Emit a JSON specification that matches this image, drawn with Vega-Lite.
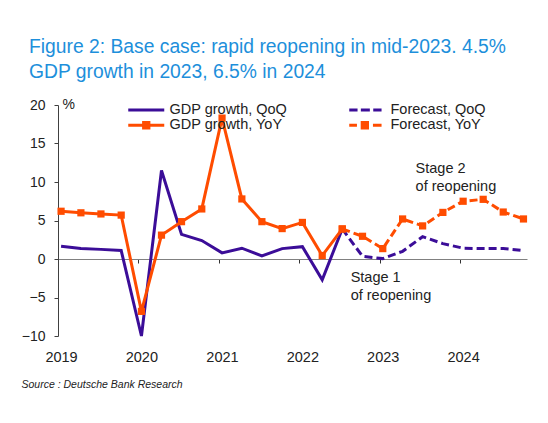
{
  "$schema": "https://vega.github.io/schema/vega-lite/v6.json",
  "width": 469,
  "height": 231,
  "autosize": {"type": "none"},
  "padding": {"left": 58, "top": 105, "right": 21, "bottom": 87},
  "background": "white",
  "title": {
    "text": ["Figure 2: Base case: rapid reopening in mid-2023. 4.5%", "GDP growth in 2023, 6.5% in 2024"],
    "anchor": "start",
    "frame": "group",
    "dx": -29,
    "offset": 15,
    "font": "Liberation Sans",
    "fontSize": 19.3,
    "fontWeight": "normal",
    "lineHeight": 24.5,
    "color": "#1d8fdb"
  },
  "datasets": {
    "gdp": [
      {"q": "2019-01-15", "series": "GDP growth, QoQ", "v": 1.65},
      {"q": "2019-04-15", "series": "GDP growth, QoQ", "v": 1.35},
      {"q": "2019-07-15", "series": "GDP growth, QoQ", "v": 1.25},
      {"q": "2019-10-15", "series": "GDP growth, QoQ", "v": 1.1},
      {"q": "2020-01-15", "series": "GDP growth, QoQ", "v": -10.0},
      {"q": "2020-04-15", "series": "GDP growth, QoQ", "v": 11.5},
      {"q": "2020-07-15", "series": "GDP growth, QoQ", "v": 3.2},
      {"q": "2020-10-15", "series": "GDP growth, QoQ", "v": 2.4},
      {"q": "2021-01-15", "series": "GDP growth, QoQ", "v": 0.8},
      {"q": "2021-04-15", "series": "GDP growth, QoQ", "v": 1.4},
      {"q": "2021-07-15", "series": "GDP growth, QoQ", "v": 0.4},
      {"q": "2021-10-15", "series": "GDP growth, QoQ", "v": 1.35},
      {"q": "2022-01-15", "series": "GDP growth, QoQ", "v": 1.6},
      {"q": "2022-04-15", "series": "GDP growth, QoQ", "v": -2.7},
      {"q": "2022-07-15", "series": "GDP growth, QoQ", "v": 3.9},
      {"q": "2022-07-15", "series": "Forecast, QoQ", "v": 3.9},
      {"q": "2022-10-15", "series": "Forecast, QoQ", "v": 0.35},
      {"q": "2023-01-15", "series": "Forecast, QoQ", "v": 0.05},
      {"q": "2023-04-15", "series": "Forecast, QoQ", "v": 1.0},
      {"q": "2023-07-15", "series": "Forecast, QoQ", "v": 2.9},
      {"q": "2023-10-15", "series": "Forecast, QoQ", "v": 2.0},
      {"q": "2024-01-15", "series": "Forecast, QoQ", "v": 1.4},
      {"q": "2024-04-15", "series": "Forecast, QoQ", "v": 1.35},
      {"q": "2024-07-15", "series": "Forecast, QoQ", "v": 1.35},
      {"q": "2024-10-15", "series": "Forecast, QoQ", "v": 1.1},
      {"q": "2019-01-15", "series": "GDP growth, YoY", "v": 6.2},
      {"q": "2019-04-15", "series": "GDP growth, YoY", "v": 6.0},
      {"q": "2019-07-15", "series": "GDP growth, YoY", "v": 5.85},
      {"q": "2019-10-15", "series": "GDP growth, YoY", "v": 5.7},
      {"q": "2020-01-15", "series": "GDP growth, YoY", "v": -6.8},
      {"q": "2020-04-15", "series": "GDP growth, YoY", "v": 3.1},
      {"q": "2020-07-15", "series": "GDP growth, YoY", "v": 4.85},
      {"q": "2020-10-15", "series": "GDP growth, YoY", "v": 6.5},
      {"q": "2021-01-15", "series": "GDP growth, YoY", "v": 18.3},
      {"q": "2021-04-15", "series": "GDP growth, YoY", "v": 7.8},
      {"q": "2021-07-15", "series": "GDP growth, YoY", "v": 4.85},
      {"q": "2021-10-15", "series": "GDP growth, YoY", "v": 3.95},
      {"q": "2022-01-15", "series": "GDP growth, YoY", "v": 4.75},
      {"q": "2022-04-15", "series": "GDP growth, YoY", "v": 0.45},
      {"q": "2022-07-15", "series": "GDP growth, YoY", "v": 3.9},
      {"q": "2022-07-15", "series": "Forecast, YoY", "v": 3.9},
      {"q": "2022-10-15", "series": "Forecast, YoY", "v": 2.95},
      {"q": "2023-01-15", "series": "Forecast, YoY", "v": 1.35},
      {"q": "2023-04-15", "series": "Forecast, YoY", "v": 5.2},
      {"q": "2023-07-15", "series": "Forecast, YoY", "v": 4.3},
      {"q": "2023-10-15", "series": "Forecast, YoY", "v": 6.05},
      {"q": "2024-01-15", "series": "Forecast, YoY", "v": 7.5},
      {"q": "2024-04-15", "series": "Forecast, YoY", "v": 7.75},
      {"q": "2024-07-15", "series": "Forecast, YoY", "v": 6.1},
      {"q": "2024-10-15", "series": "Forecast, YoY", "v": 5.2}
    ],
    "notes": [
      {"q": "2023-06-13", "v": 11.65, "label": "Stage 2\nof reopening"},
      {"q": "2022-08-22", "v": -2.43, "label": "Stage 1\nof reopening"}
    ]
  },
  "layer": [
    {
      "data": {"name": "gdp"},
      "encoding": {
        "x": {
          "field": "q",
          "type": "temporal",
          "scale": {"domain": [{"year": 2019, "month": 1, "date": 1}, {"year": 2024, "month": 10, "date": 31}]},
          "axis": {
            "orient": "bottom",
            "offset": -77,
            "title": null,
            "labels": false,
            "grid": false,
            "values": [
              {"year": 2019, "month": 1, "date": 1},
              {"year": 2020, "month": 1, "date": 1},
              {"year": 2021, "month": 1, "date": 1},
              {"year": 2022, "month": 1, "date": 1},
              {"year": 2023, "month": 1, "date": 1},
              {"year": 2024, "month": 1, "date": 1}
            ],
            "domainColor": "#808080",
            "domainWidth": 1,
            "tickColor": "#333333",
            "tickSize": 4,
            "tickWidth": 1
          }
        },
        "y": {
          "field": "v",
          "type": "quantitative",
          "scale": {"domain": [-10, 20], "nice": false, "zero": false},
          "axis": {
            "values": [-10, -5, 0, 5, 10, 15, 20],
            "grid": false,
            "domainColor": "#404040",
            "tickColor": "#404040",
            "tickSize": 4,
            "labelPadding": 9,
            "labelFont": "Liberation Sans",
            "labelFontSize": 14,
            "labelColor": "#222222",
            "title": "%",
            "titleAngle": 0,
            "titleAlign": "left",
            "titleBaseline": "middle",
            "titleX": 4,
            "titleY": -1,
            "titleFont": "Liberation Sans",
            "titleFontSize": 14,
            "titleFontWeight": "normal",
            "titleColor": "#222222"
          }
        }
      },
      "layer": [
        {
          "transform": [{"filter": {"field": "series", "equal": "GDP growth, QoQ"}}],
          "mark": {"type": "line", "color": "#3b0d98", "strokeWidth": 3}
        },
        {
          "transform": [{"filter": {"field": "series", "equal": "Forecast, QoQ"}}],
          "mark": {"type": "line", "color": "#3b0d98", "strokeWidth": 3, "strokeDash": [8, 4]}
        },
        {
          "transform": [{"filter": {"field": "series", "equal": "Forecast, YoY"}}],
          "mark": {"type": "line", "color": "#ff4c00", "strokeWidth": 3, "strokeDash": [8, 4]}
        },
        {
          "transform": [{"filter": {"field": "series", "equal": "GDP growth, YoY"}}],
          "mark": {"type": "line", "color": "#ff4c00", "strokeWidth": 3}
        },
        {
          "transform": [{"filter": {"field": "series", "oneOf": ["GDP growth, YoY", "Forecast, YoY"]}}],
          "mark": {"type": "point", "shape": "square", "filled": true, "opacity": 1, "color": "#ff4c00", "size": 52}
        },
        {
          "data": {"name": "notes"},
          "mark": {"type": "text", "align": "left", "baseline": "middle", "lineBreak": "\n", "lineHeight": 18, "font": "Liberation Sans", "fontSize": 14.5, "color": "#222222"},
          "encoding": {"text": {"field": "label"}}
        }
      ]
    },
    {
      "data": {"name": "gdp"},
      "transform": [{"filter": "datum.v > 100"}],
      "mark": {"type": "point", "filled": true, "opacity": 1},
      "encoding": {
        "x": {
          "field": "q",
          "type": "temporal",
          "scale": {"domain": [{"year": 2019, "month": 1, "date": 1}, {"year": 2024, "month": 10, "date": 31}]},
          "axis": {
            "orient": "bottom",
            "values": [
              {"year": 2019, "month": 1, "date": 1},
              {"year": 2020, "month": 1, "date": 1},
              {"year": 2021, "month": 1, "date": 1},
              {"year": 2022, "month": 1, "date": 1},
              {"year": 2023, "month": 1, "date": 1},
              {"year": 2024, "month": 1, "date": 1}
            ],
            "format": "%Y",
            "domain": false,
            "ticks": false,
            "tickSize": 0,
            "grid": false,
            "labelFlush": false,
            "labelOffset": 3,
            "labelPadding": 14,
            "labelFont": "Liberation Sans",
            "labelFontSize": 14.5,
            "labelColor": "#222222",
            "title": "Source : Deutsche Bank Research",
            "titleX": -37,
            "titleY": 48,
            "titleAlign": "left",
            "titleAnchor": "start",
            "titleBaseline": "middle",
            "titleFont": "Liberation Sans",
            "titleFontSize": 10.5,
            "titleFontStyle": "italic",
            "titleFontWeight": "normal",
            "titleColor": "#222222"
          }
        },
        "color": {
          "field": "series",
          "type": "nominal",
          "scale": {
            "domain": ["GDP growth, QoQ", "GDP growth, YoY", "Forecast, QoQ", "Forecast, YoY"],
            "range": ["#3b0d98", "#ff4c00", "#3b0d98", "#ff4c00"]
          },
          "legend": {
            "title": null,
            "orient": "none",
            "legendX": 68,
            "legendY": -2.5,
            "columns": 2,
            "columnPadding": 59,
            "rowPadding": 0.5,
            "padding": 0,
            "symbolSize": 100,
            "symbolStrokeWidth": 0,
            "labelOffset": 29,
            "labelFont": "Liberation Sans",
            "labelFontSize": 14.5,
            "labelColor": "#222222"
          }
        },
        "shape": {
          "field": "series",
          "type": "nominal",
          "scale": {
            "domain": ["GDP growth, QoQ", "GDP growth, YoY", "Forecast, QoQ", "Forecast, YoY"],
            "range": [
              "M-1,-0.3H6.2V0.3H-1Z",
              "M-1,-0.3H6.2V0.3H-1Z M1.77,-0.83H3.43V0.83H1.77Z",
              "M-1,-0.3H0.66V0.3H-1Z M1.32,-0.3H3.12V0.3H1.32Z M3.8,-0.3H5.46V0.3H3.8Z",
              "M-1,-0.3H0.54V0.3H-1Z M1.29,-0.83H2.95V0.83H1.29Z M3.74,-0.3H5.46V0.3H3.74Z"
            ]
          }
        }
      }
    }
  ],
  "resolve": {"scale": {"x": "independent"}, "axis": {"x": "independent"}},
  "config": {"view": {"stroke": null}, "font": "Liberation Sans"}
}
